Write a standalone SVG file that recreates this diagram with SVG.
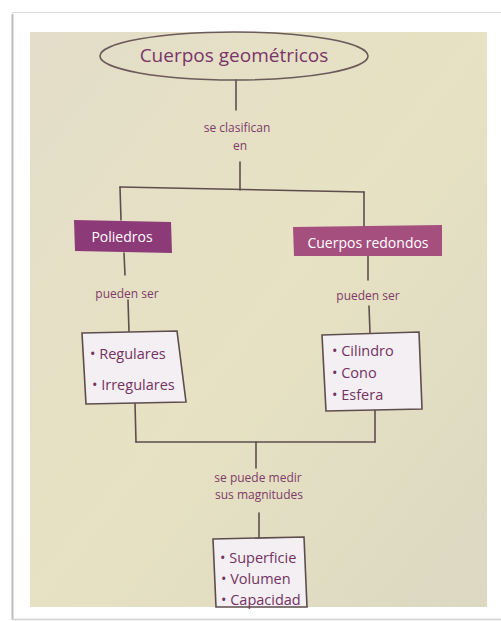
<svg xmlns="http://www.w3.org/2000/svg" width="501" height="621" viewBox="0 0 501 621">
  <defs>
    <linearGradient id="paper" x1="0" y1="0" x2="1" y2="1">
      <stop offset="0" stop-color="#e3ddc9"/>
      <stop offset="0.5" stop-color="#e7e2c3"/>
      <stop offset="1" stop-color="#dcd8c2"/>
    </linearGradient>
    <style>
      .line { stroke: #5e4d4d; stroke-width: 1.6; fill: none; stroke-linecap: round; }
      .label { font-family: "Open Sans", "Liberation Sans", sans-serif; fill: #7e3a68; text-anchor: middle; }
      .small { font-size: 12px; }
      .title { font-size: 19px; fill: #7a3568; }
      .tag { font-family: "Open Sans", "Liberation Sans", sans-serif; font-size: 14px; fill: #ffffff; text-anchor: middle; }
      .list { font-family: "Open Sans", "Liberation Sans", sans-serif; font-size: 14.5px; fill: #74325f; }
      .box { fill: #f3eff3; stroke: #5e4d4d; stroke-width: 1.6; }
    </style>
  </defs>

  <!-- page card -->
  <rect x="0" y="0" width="501" height="621" fill="#ffffff"/>
  <line x1="12" y1="12.5" x2="501" y2="12.5" stroke="#dddddd" stroke-width="1"/>
  <line x1="12.5" y1="14" x2="12.5" y2="620" stroke="#bdbdbd" stroke-width="2"/>
  <line x1="12" y1="619.5" x2="501" y2="619.5" stroke="#d0d0d0" stroke-width="1.5"/>
  <rect x="30" y="32" width="457" height="575" fill="url(#paper)"/>

  <!-- connectors -->
  <g id="connectors">
    <line class="line" x1="236" y1="80" x2="236" y2="110"/>
    <line class="line" x1="240" y1="162" x2="240" y2="190"/>
    <line class="line" x1="120" y1="187" x2="364" y2="192"/>
    <line class="line" x1="120" y1="187" x2="121" y2="220"/>
    <line class="line" x1="364" y1="192" x2="364" y2="227"/>
    <line class="line" x1="124" y1="253" x2="125" y2="275"/>
    <line class="line" x1="128" y1="300" x2="129" y2="332"/>
    <line class="line" x1="368" y1="256" x2="368" y2="280"/>
    <line class="line" x1="369" y1="306" x2="370" y2="333"/>
    <line class="line" x1="135" y1="403" x2="136" y2="442"/>
    <line class="line" x1="375" y1="410" x2="375" y2="442"/>
    <line class="line" x1="136" y1="442" x2="375" y2="442"/>
    <line class="line" x1="256" y1="442" x2="256" y2="468"/>
    <line class="line" x1="259" y1="513" x2="259" y2="538"/>
  </g>

  <!-- root -->
  <g id="root">
    <ellipse cx="234" cy="56" rx="134" ry="24" fill="none" stroke="#6a5a5a" stroke-width="1.6"/>
    <text class="label title" x="234" y="62">Cuerpos geométricos</text>
  </g>

  <g id="lbl-clasifican">
    <text class="label small" x="237" y="132">se clasifican</text>
    <text class="label small" x="240" y="150">en</text>
  </g>

  <g id="poliedros">
    <polygon points="74,220 171,222 172,253 75,251" fill="#8d3a78"/>
    <text class="tag" x="122" y="242">Poliedros</text>
  </g>

  <g id="redondos">
    <polygon points="293,227 442,225 442,256 294,256" fill="#a54f7f"/>
    <text class="tag" x="368" y="248">Cuerpos redondos</text>
  </g>

  <g id="lbl-pueden-1">
    <text class="label small" x="127" y="298">pueden ser</text>
  </g>
  <g id="lbl-pueden-2">
    <text class="label small" x="368" y="300">pueden ser</text>
  </g>

  <g id="tipos-poliedros">
    <polygon class="box" points="82,333 177,331 186,402 86,404"/>
    <text class="list" x="90" y="359">• Regulares</text>
    <text class="list" x="92" y="390">• Irregulares</text>
  </g>

  <g id="tipos-redondos">
    <polygon class="box" points="322,335 419,332 422,409 326,411"/>
    <text class="list" x="332" y="356">• Cilindro</text>
    <text class="list" x="332" y="378">• Cono</text>
    <text class="list" x="332" y="400">• Esfera</text>
  </g>

  <g id="lbl-medir">
    <text class="label small" x="258" y="482">se puede medir</text>
    <text class="label small" x="259" y="499">sus magnitudes</text>
  </g>

  <g id="magnitudes">
    <polygon class="box" points="213,539 304,537 307,607 216,607"/>
    <text class="list" x="220" y="563">• Superficie</text>
    <text class="list" x="221" y="584">• Volumen</text>
    <text class="list" x="221" y="605">• Capacidad</text>
  </g>
</svg>
